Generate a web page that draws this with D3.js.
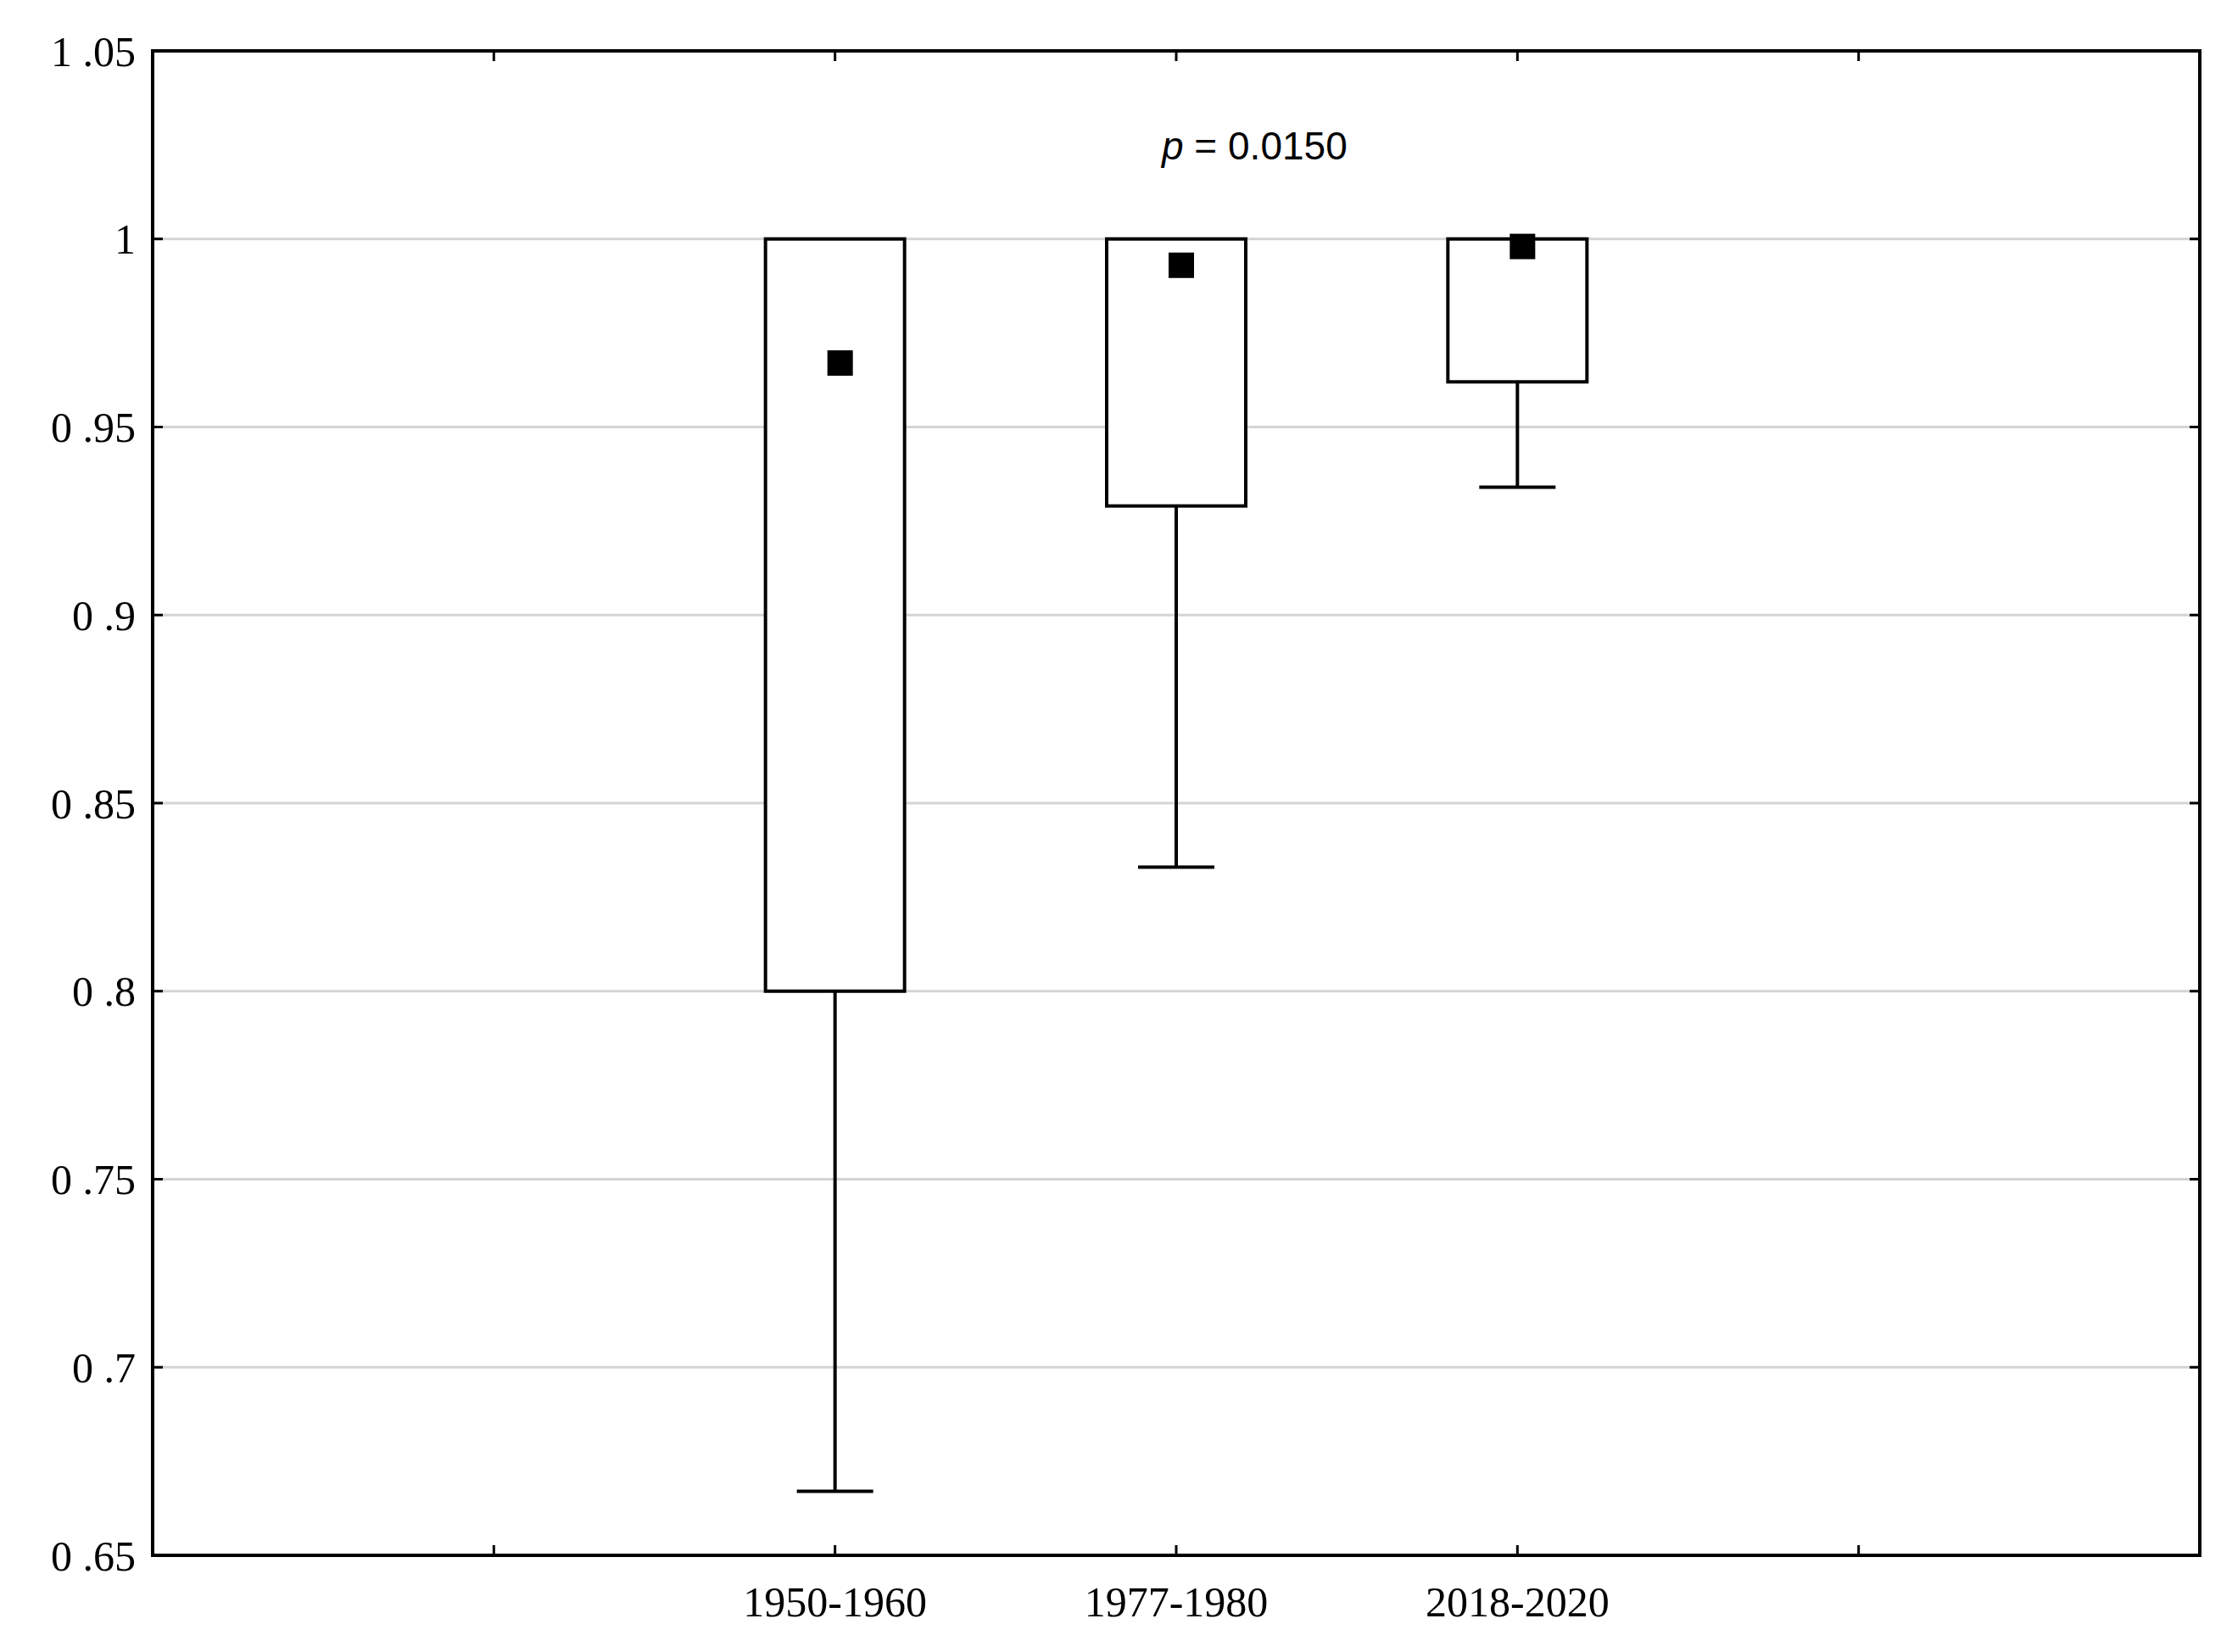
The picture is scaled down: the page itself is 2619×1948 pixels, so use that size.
<!DOCTYPE html>
<html><head><meta charset="utf-8">
<script src="https://cdn.jsdelivr.net/npm/d3@7"></script>
<style>body{margin:0;background:#fff}</style>
</head><body><div id="chart-area"></div>
<script>
const categories = ["", "1950-1960", "1977-1980", "2018-2020", ""]
const q1 = [null, 0.8, 0.929, 0.962]
const q3 = [null, 1.0, 1.0, 1.0]
const whiskerLow = [null, 0.667, 0.833, 0.934]
const means = [null, 0.967, 0.993, 0.998]
const yTicks = [0.65, 0.7, 0.75, 0.8, 0.85, 0.9, 0.95, 1, 1.05]
const pText = "= 0.0150"

const MARGIN = { LEFT: 180, RIGHT: 25, TOP: 60, BOTTOM: 114 }
const WIDTH = 2619 - MARGIN.LEFT - MARGIN.RIGHT
const HEIGHT = 1948 - MARGIN.TOP - MARGIN.BOTTOM

const svg = d3.select("#chart-area").append("svg")
  .attr("width", 2619).attr("height", 1948)
const g = svg.append("g").attr("transform", `translate(${MARGIN.LEFT}, ${MARGIN.TOP})`)

const idx = categories.map((d, i) => i)
const x = d3.scalePoint().domain(idx).range([0, WIDTH]).padding(1)
const y = d3.scaleLinear().domain([0.65, 1.05]).range([HEIGHT, 0])

// grid
g.selectAll(".grid").data(yTicks.slice(1, -1)).enter().append("line")
  .attr("x1", 0).attr("x2", WIDTH)
  .attr("y1", d => y(d)).attr("y2", d => y(d))
  .attr("stroke", "#d4d4d4").attr("stroke-width", 3)

// y axis labels
const fmt = d => d === 1 ? "1" : d3.format(".2~f")(d).replace(".", " .")
g.selectAll(".ylab").data(yTicks).enter().append("text")
  .attr("x", -20).attr("y", d => y(d)).attr("dy", "0.35em")
  .attr("text-anchor", "end")
  .style("font-family", "Liberation Serif").style("font-size", "50px")
  .text(fmt)
g.selectAll(".ytick").data(yTicks).enter().append("line")
  .attr("x1", 0).attr("x2", 12).attr("y1", d => y(d)).attr("y2", d => y(d))
  .attr("stroke", "#000").attr("stroke-width", 3)
g.selectAll(".ytickr").data(yTicks).enter().append("line")
  .attr("x1", WIDTH).attr("x2", WIDTH - 12).attr("y1", d => y(d)).attr("y2", d => y(d))
  .attr("stroke", "#000").attr("stroke-width", 3)

// x ticks and labels
g.selectAll(".xtick").data(idx).enter().append("line")
  .attr("x1", d => x(d)).attr("x2", d => x(d))
  .attr("y1", HEIGHT).attr("y2", HEIGHT - 12)
  .attr("stroke", "#000").attr("stroke-width", 3)
g.selectAll(".xtickt").data(idx).enter().append("line")
  .attr("x1", d => x(d)).attr("x2", d => x(d))
  .attr("y1", 0).attr("y2", 12)
  .attr("stroke", "#000").attr("stroke-width", 3)
g.selectAll(".xlab").data(idx).enter().append("text")
  .attr("x", d => x(d)).attr("y", HEIGHT + 72)
  .attr("text-anchor", "middle")
  .style("font-family", "Liberation Serif").style("font-size", "50px")
  .text(d => categories[d])

// boxes
const boxes = idx.filter(i => q1[i] != null)
const bw = 164, cap = 90, mk = 30
boxes.forEach(i => {
  const cx = x(i)
  g.append("line").attr("x1", cx).attr("x2", cx)
    .attr("y1", y(q1[i])).attr("y2", y(whiskerLow[i]))
    .attr("stroke", "#000").attr("stroke-width", 4)
  g.append("line").attr("x1", cx - cap / 2).attr("x2", cx + cap / 2)
    .attr("y1", y(whiskerLow[i])).attr("y2", y(whiskerLow[i]))
    .attr("stroke", "#000").attr("stroke-width", 4)
  g.append("rect").attr("x", cx - bw / 2).attr("width", bw)
    .attr("y", y(q3[i])).attr("height", y(q1[i]) - y(q3[i]))
    .attr("fill", "#fff").attr("stroke", "#000").attr("stroke-width", 4)
  g.append("rect").attr("x", cx - mk / 2 + 6).attr("y", y(means[i]) - mk / 2)
    .attr("width", mk).attr("height", mk).attr("fill", "#000")
})

// frame
g.append("rect").attr("width", WIDTH).attr("height", HEIGHT)
  .attr("fill", "none").attr("stroke", "#000").attr("stroke-width", 4)

// p value
const pt = g.append("text").attr("x", 1190).attr("y", 188 - MARGIN.TOP)
  .style("font-family", "Liberation Sans").style("font-size", "46px")
pt.append("tspan").style("font-style", "italic").text("p")
pt.append("tspan").text(" " + pText)
</script></body></html>
